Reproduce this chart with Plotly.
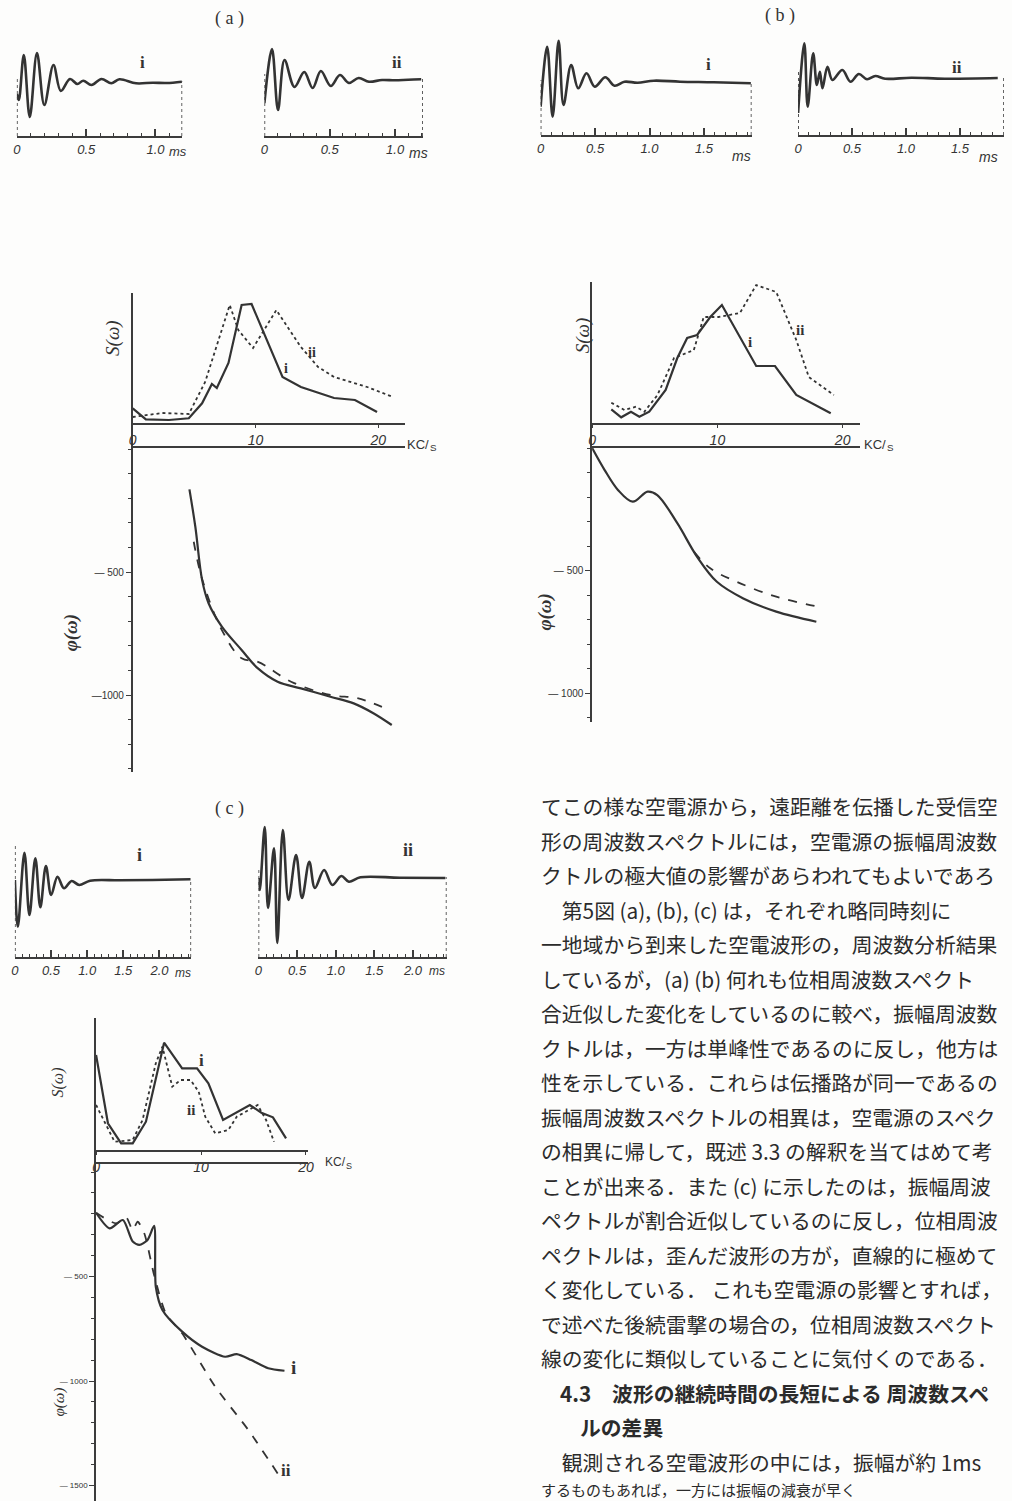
import plotly.graph_objects as go

W, H = 1012, 1501

# ---------------- data ----------------
# waveforms: time in ms, amplitude (relative units)
wa1_t = [0.0, 0.014, 0.05, 0.093, 0.145, 0.198, 0.264, 0.317, 0.383, 0.436, 0.479, 0.538, 0.61, 0.681, 0.74, 0.86, 0.98, 1.08, 1.19]
wa1_a = [-12, -18, 27, -35, 29, -23, 17, -9, 3, -2, 1.3, -3, 3, -1.3, 2.7, -1.3, -0.7, -1, 0.3]
wa2_t = [0.0, 0.058, 0.104, 0.154, 0.23, 0.305, 0.369, 0.432, 0.508, 0.578, 0.646, 0.722, 0.80, 0.9, 1.0, 1.1, 1.2]
wa2_a = [-23, 31, -30, 20, -7, 8, -8, 9, -6, 5, -3, 2, -1.7, 0, -0.3, 0.3, 0.7]
wb1_t = [0.0, 0.06, 0.11, 0.165, 0.21, 0.28, 0.345, 0.421, 0.497, 0.594, 0.679, 0.77, 0.89, 1.04, 1.28, 1.59, 1.93]
wb1_a = [-23.7, 36.3, -33.7, 42.3, -22, 18, -5.3, 9.7, -3.7, 5.7, -2.7, 1.3, 0.3, 2.3, 1.3, 0.7, -0.3]
wb2_t = [0.0, 0.058, 0.089, 0.14, 0.174, 0.202, 0.226, 0.272, 0.318, 0.41, 0.486, 0.563, 0.639, 0.716, 0.807, 1.05, 1.36, 1.85]
wb2_a = [-35, 34.7, -28.7, 24.7, -7, 6.3, -10.3, 11.3, -2, 8, -3.7, 4, -1.3, 2, -0.7, 0.3, -0.7, 0]
wc1_t = [0.0, 0.041, 0.132, 0.201, 0.283, 0.352, 0.429, 0.502, 0.589, 0.68, 0.785, 0.89, 1.04, 1.45, 1.9, 2.43]
wc1_a = [0, -46.7, 27.3, -35, 21.7, -27.3, 14, -15, 3.3, -8.3, -1, -5, -0.7, -0.3, 0, 0.7]
wc2_t = [0.0, 0.017, 0.081, 0.124, 0.201, 0.244, 0.316, 0.389, 0.487, 0.564, 0.658, 0.731, 0.85, 0.957, 1.073, 1.17, 1.32, 1.83, 2.42]
wc2_a = [0, -12, 51, -30, 29.7, -65, 48, -22, 23, -20, 16.3, -10, 8, -7, 2, -3.7, 0.7, 0.3, 0]

# amplitude spectra S(w): frequency in kc/s, relative amplitude
Sa_i_f = [0, 1.07, 2.95, 4.57, 5.65, 6.45, 6.85, 7.8, 8.87, 9.68, 12.2, 13.7, 16.4, 18.1, 19.9]
Sa_i_v = [15.7, 4.7, 4, 5.7, 20.7, 40, 36, 61, 119, 120, 47, 37, 26, 24, 12]
Sa_ii_f = [0, 2.4, 4.57, 5.9, 7.9, 8.6, 9.8, 11.7, 13.7, 15.1, 16.4, 19.1, 21.2]
Sa_ii_v = [7, 11, 10, 42, 119, 94, 76, 114, 77, 57, 47, 37, 27]
Sb_i_f = [1.53, 2.32, 3.1, 3.77, 4.56, 5.87, 6.8, 7.59, 8.38, 9.43, 10.36, 13.1, 14.6, 16.3, 19.05]
Sb_i_v = [14.7, 6.7, 12.3, 7.3, 12.3, 34, 66, 86, 89, 107, 119, 58, 58, 29, 10.7]
Sb_ii_f = [1.53, 2.58, 3.5, 4.17, 5.22, 6.54, 8.12, 8.91, 10.1, 11.8, 13.1, 14.7, 16.3, 17.3, 19.3]
Sb_ii_v = [21.3, 14, 17.3, 12.3, 29, 66, 74, 107, 107, 111, 139, 132, 84, 47, 29]
Sc_i_f = [0, 1.13, 2.39, 3.49, 4.75, 6.48, 8.2, 9.62, 10.7, 12.1, 14.65, 15.75, 16.85, 18.1]
Sc_i_v = [96, 27.7, 7.7, 7.7, 29.3, 108.3, 82.7, 82.7, 67.7, 31, 46, 38.3, 33.7, 12.7]
Sc_ii_f = [0, 0.66, 1.76, 3.49, 4.43, 5.69, 6.32, 7.26, 8.05, 9.0, 9.78, 10.4, 11.35, 12.6, 13.4, 15.4, 16.2, 16.95]
Sc_ii_v = [46, 32.7, 9.3, 11, 31, 87.7, 104.3, 64.3, 71, 71, 59.3, 34.3, 17.7, 21, 34.3, 46, 31, 9.3]

# phase spectra phi(w): frequency in kc/s, phase (degrees)
Pa_i_f = [4.62, 5.1, 5.65, 6.18, 7.26, 8.87, 10.2, 11.8, 13.7, 16.1, 18.0, 19.6, 21.1]
Pa_i_v = [-164, -316, -532, -627, -722, -817, -892, -946, -973, -1007, -1034, -1074, -1122]
Pa_ii_f = [4.97, 5.65, 7.26, 8.87, 10.2, 12.9, 16.1, 18.3, 20.3]
Pa_ii_v = [-377, -528, -736, -851, -865, -946, -1000, -1013, -1048]
Pb_i_f = [0, 1.0, 2.06, 3.24, 4.43, 5.2, 6.8, 8.38, 9.96, 12.07, 14.7, 17.9]
Pb_i_v = [0, -90, -171, -219, -178, -192, -307, -444, -546, -614, -668, -709]
Pb_ii_f = [8.12, 9.43, 11.54, 14.7, 18.1]
Pb_ii_v = [-423, -491, -546, -607, -648]
Pc_i_f = [0, 1.29, 2.55, 3.49, 4.12, 4.9, 5.53, 5.69, 6.32, 8.2, 10.1, 12.3, 13.4, 14.8, 16.4, 17.95]
Pc_i_v = [-195, -270, -230, -333, -349, -325, -258, -549, -660, -764, -836, -884, -871, -900, -939, -951]
Pc_ii_f = [0, 1.92, 2.86, 3.49, 3.96, 4.59, 5.53, 6.64, 8.2, 11.35, 14.5, 17.3]
Pc_ii_v = [-195, -246, -217, -278, -238, -293, -493, -676, -772, -1027, -1234, -1442]

time_ticks_a = [0, 0.5, 1.0]
time_ticks_b = [0, 0.5, 1.0, 1.5]
time_ticks_c = [0, 0.5, 1.0, 1.5, 2.0]
freq_ticks = [0, 10, 20]
phase_ticks = [-500, -1000]
phase_ticks_c = [-500, -1000, -1500]

# body text (only the part visible on the page)
text_lines = [
    "てこの様な空電源から，遠距離を伝播した受信空",
    "形の周波数スペクトルには，空電源の振幅周波数",
    "クトルの極大値の影響があらわれてもよいであろ",
    "　第5図 (a), (b), (c) は，それぞれ略同時刻に",
    "一地域から到来した空電波形の，周波数分析結果",
    "しているが，(a) (b) 何れも位相周波数スペクト",
    "合近似した変化をしているのに較べ，振幅周波数",
    "クトルは，一方は単峰性であるのに反し，他方は",
    "性を示している．これらは伝播路が同一であるの",
    "振幅周波数スペクトルの相異は，空電源のスペク",
    "の相異に帰して，既述 3.3 の解釈を当てはめて考",
    "ことが出来る．また (c) に示したのは，振幅周波",
    "ペクトルが割合近似しているのに反し，位相周波",
    "ペクトルは，歪んだ波形の方が，直線的に極めて",
    "く変化している． これも空電源の影響とすれば，",
    "で述べた後続雷撃の場合の，位相周波数スペクト",
    "線の変化に類似していることに気付くのである．",
    "<b>4.3　波形の継続時間の長短による 周波数スペ</b>",
    "<b>ルの差異</b>",
    "　観測される空電波形の中には，振幅が約 1ms ",
    "するものもあれば，一方には振幅の減衰が早く",
]
text_indent = [0, 0, 0, 0, 0, 0, 0, 0, 0, 0, 0, 0, 0, 0, 0, 0, 0, 1, 2, 0, 0]

# ---------------- styling helpers ----------------
INK = "#333333"
AX = "#3c3c3c"
TICKFONT = dict(family="Liberation Sans", size=13, color=INK, style="italic")

fig = go.Figure()
layout = {}
annotations = []
shapes = []
counter = [0]


def px_x(p):
    return p / W


def px_y(p):
    return 1 - p / H


def new_axes(xpx, ypx, xrange, yrange, xopt, yopt):
    counter[0] += 1
    n = counter[0]
    sfx = "" if n == 1 else str(n)
    xo = dict(domain=[px_x(xpx[0]), px_x(xpx[1])], range=xrange, showgrid=False,
              zeroline=False, fixedrange=True)
    yo = dict(domain=[px_y(ypx[1]), px_y(ypx[0])], range=yrange, showgrid=False,
              zeroline=False, fixedrange=True)
    xo.setdefault("anchor", "y" + sfx)
    yo["anchor"] = "x" + sfx
    xo.update(xopt)
    yo.update(yopt)
    layout["xaxis" + sfx] = xo
    layout["yaxis" + sfx] = yo
    return "x" + sfx, "y" + sfx


def label(x, y, text, size=16, family="Liberation Serif", angle=0, style="normal",
          weight="normal", xanchor="center"):
    annotations.append(dict(x=px_x(x), y=px_y(y), xref="paper", yref="paper",
                            text=text, showarrow=False, textangle=angle,
                            xanchor=xanchor, yanchor="middle",
                            font=dict(family=family, size=size, color=INK,
                                      style=style, weight=weight)))


def kcs(x, y, size=13):
    # "KC/s" unit: the s sits a little lower, as in the figure
    label(x, y, "KC/", size=size, family="Liberation Sans", xanchor="left")
    label(x + size * 1.75, y + 4, "S", size=size * 0.75, family="Liberation Sans",
          xanchor="left")


def waveform(xpx, ypx, zero_py, px_per_ms, t, a, ticks, left_top):
    tmax = (xpx[1] - xpx[0]) / px_per_ms
    yr = [zero_py - ypx[1], zero_py - ypx[0]]
    xa, ya = new_axes(
        xpx, ypx, [0, tmax], yr,
        dict(showline=True, linecolor=AX, linewidth=1.6, ticks="inside", ticklen=7,
             tickwidth=1.5, tickcolor=AX, tickmode="array", tickvals=ticks,
             ticktext=[("%g" % v if v == 0 else "%.1f" % v) for v in ticks],
             tickfont=TICKFONT, ticklabelstandoff=1,
             minor=dict(tickmode="linear", tick0=0, dtick=0.1, ticks="inside",
                        ticklen=3, tickwidth=1, tickcolor=AX)),
        dict(visible=False, showticklabels=False, tickvals=[]))
    fig.add_trace(go.Scatter(x=t, y=a, xaxis=xa, yaxis=ya, mode="lines",
                             line=dict(color=INK, width=2.6, shape="spline",
                                       smoothing=1.0),
                             hoverinfo="skip", showlegend=False))
    shapes.append(dict(type="line", xref=xa, yref=ya, x0=0, x1=0, y0=yr[0],
                       y1=left_top, line=dict(color=AX, width=1.6, dash="dot")))
    shapes.append(dict(type="line", xref=xa, yref=ya, x0=tmax, x1=tmax, y0=yr[0],
                       y1=1, line=dict(color=AX, width=1.6, dash="dot")))


def spectrum(xpx, ypx, axis_py, px_per_unit, fi, vi, fii, vii):
    frange = [0, (xpx[1] - xpx[0]) / px_per_unit]
    yr = [axis_py - ypx[1], axis_py - ypx[0]]
    xa, ya = new_axes(
        xpx, ypx, frange, yr,
        dict(anchor="free", position=px_y(axis_py), showline=True, linecolor=AX,
             linewidth=1.6, ticks="outside", ticklen=3, tickcolor=AX,
             tickmode="array", tickvals=freq_ticks,
             ticktext=[str(v) for v in freq_ticks], tickfont=dict(TICKFONT, size=14),
             ticklabelstandoff=0),
        dict(showline=True, linecolor=AX, linewidth=1.6, showticklabels=False,
             ticks="", tickvals=[]))
    fig.add_trace(go.Scatter(x=fii, y=vii, xaxis=xa, yaxis=ya, mode="lines",
                             line=dict(color=INK, width=1.8, dash="dot"),
                             hoverinfo="skip", showlegend=False))
    fig.add_trace(go.Scatter(x=fi, y=vi, xaxis=xa, yaxis=ya, mode="lines",
                             line=dict(color=INK, width=2.2),
                             hoverinfo="skip", showlegend=False))
    return frange


def phase(xpx, ypx, zero_py, px_per_deg, frange, fi, vi, fii, vii, tvals, ttext,
          tsize=10, smooth=1.0):
    yr = [-(ypx[1] - zero_py) / px_per_deg, (zero_py - ypx[0]) / px_per_deg]
    xa, ya = new_axes(
        xpx, ypx, frange, yr,
        dict(side="top", showline=True, linecolor=AX, linewidth=1.6,
             showticklabels=False, ticks="", tickvals=[]),
        dict(showline=True, linecolor=AX, linewidth=1.6, ticks="outside", ticklen=5,
             tickwidth=1.3, tickcolor=AX, tickmode="array", tickvals=tvals,
             ticktext=ttext, tickfont=dict(family="Liberation Sans", size=tsize,
                                           color=INK),
             minor=dict(tickmode="linear", tick0=0, dtick=100, ticks="outside",
                        ticklen=3, tickwidth=1, tickcolor=AX)))
    fig.add_trace(go.Scatter(x=fii, y=vii, xaxis=xa, yaxis=ya, mode="lines",
                             line=dict(color=INK, width=1.8, dash="dash",
                                       shape="spline", smoothing=smooth),
                             hoverinfo="skip", showlegend=False))
    fig.add_trace(go.Scatter(x=fi, y=vi, xaxis=xa, yaxis=ya, mode="lines",
                             line=dict(color=INK, width=2.2, shape="spline",
                                       smoothing=smooth),
                             hoverinfo="skip", showlegend=False))


# ---------------- panel (a) ----------------
label(228, 18, "( a )", size=18)
waveform([13, 180], [40, 136], 82, 140, wa1_t, wa1_a, time_ticks_a, 4)
waveform([263, 423], [40, 136], 80, 132, wa2_t, wa2_a, time_ticks_a, 6)
label(140, 63, "<b>i</b>", size=17)
label(397, 63, "<b>ii</b>", size=17)
label(176, 151, "ms", size=13, family="Liberation Sans", style="italic")
label(419, 153, "ms", size=14, family="Liberation Sans", style="italic")

fr = spectrum([130, 405], [293, 448], 424, 12.4, Sa_i_f, Sa_i_v, Sa_ii_f, Sa_ii_v)
phase([130, 405], [448, 772], 449, 0.246, fr, Pa_i_f, Pa_i_v, Pa_ii_f, Pa_ii_v,
      phase_ticks, ["— 500", "—1000"])
label(285, 368, "<b>i</b>", size=14)
label(311, 352, "<b>ii</b>", size=14)
kcs(405, 444)
label(110, 338, "S(ω)", size=19, angle=-90, style="italic")
label(68, 632, "φ(ω)", size=19, angle=-90, style="italic", weight="bold")

# ---------------- panel (b) ----------------
label(784, 16, "( b )", size=18)
waveform([542, 755], [35, 135], 83, 110, wb1_t, wb1_a, time_ticks_b, 3)
waveform([802, 1010], [35, 135], 78, 109, wb2_t, wb2_a, time_ticks_b, 8)
label(712, 65, "<b>i</b>", size=17)
label(963, 68, "<b>ii</b>", size=17)
label(745, 156, "ms", size=14, family="Liberation Sans", style="italic")
label(994, 157, "ms", size=14, family="Liberation Sans", style="italic")

fr = spectrum([594, 865], [282, 448], 424, 12.65, Sb_i_f, Sb_i_v, Sb_ii_f, Sb_ii_v)
phase([594, 865], [448, 722], 448, 0.245, fr, Pb_i_f, Pb_i_v, Pb_ii_f, Pb_ii_v,
      phase_ticks, ["— 500", "— 1000"])
label(753, 342, "<b>i</b>", size=15)
label(804, 330, "<b>ii</b>", size=15)
kcs(867, 444)
label(585, 335, "S(ω)", size=19, angle=-90, style="italic")
label(546, 612, "φ(ω)", size=19, angle=-90, style="italic", weight="bold")

# ---------------- panel (c) ----------------
label(228, 808, "( c )", size=18)
waveform([11, 189], [835, 957], 880, 73, wc1_t, wc1_a, time_ticks_c, 35)
waveform([257, 447], [820, 957], 878, 78, wc2_t, wc2_a, time_ticks_c, 8)
label(137, 855, "<b>i</b>", size=18)
label(408, 850, "<b>ii</b>", size=18)
label(181, 973, "ms", size=12, family="Liberation Sans", style="italic")
label(437, 971, "ms", size=12, family="Liberation Sans", style="italic")

fr = spectrum([93, 307], [1018, 1164], 1151, 10.6, Sc_i_f, Sc_i_v, Sc_ii_f, Sc_ii_v)
phase([93, 307], [1164, 1501], 1172, 0.209, fr, Pc_i_f, Pc_i_v, Pc_ii_f, Pc_ii_v,
      phase_ticks_c, ["— 500", "— 1000", "— 1500"], tsize=8, smooth=0.7)
label(199, 1060, "<b>i</b>", size=17)
label(189, 1110, "<b>ii</b>", size=15)
label(292, 1367, "<b>i</b>", size=19)
label(285, 1470, "<b>ii</b>", size=17)
kcs(322, 1162, size=12)
label(55, 1082, "S(ω)", size=16, angle=-90, style="italic")
label(56, 1402, "φ(ω)", size=15, angle=-90, style="italic")

# ---------------- Japanese body text ----------------
TEXT_SIZE = 20.8
n_lines = len(text_lines)
for i, line in enumerate(text_lines):
    size = TEXT_SIZE
    yc = 806 + i * 34.5
    if i == n_lines - 1:
        # last, partly visible line of the page: kept inside the page
        size = 15
        yc = 1489
    annotations.append(dict(x=px_x(540 + 20 * text_indent[i]), y=px_y(yc),
                            xref="paper", yref="paper", text=line, showarrow=False,
                            xanchor="left", yanchor="middle",
                            font=dict(family="Noto Sans CJK JP", size=size,
                                      color="#2b2b2b")))

layout.update(dict(width=W, height=H, margin=dict(l=0, r=0, t=0, b=0),
                   paper_bgcolor="#fdfdfc", plot_bgcolor="rgba(0,0,0,0)",
                   showlegend=False, annotations=annotations, shapes=shapes))
fig.update_layout(**layout)
fig.write_html("out.html", config={"displayModeBar": False},
               post_script="document.body.style.margin='0px';"
                           "document.body.style.overflow='hidden';")
